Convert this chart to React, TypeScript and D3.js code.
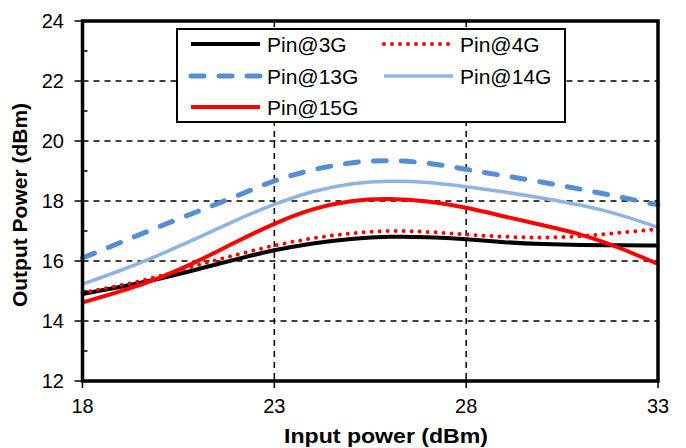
import React, { useRef, useEffect } from "react";
import * as d3 from "d3";

const inputPower = [18, 19, 20, 21, 22, 23, 24, 25, 26, 27, 28, 29, 30, 31, 32, 33];
const pin3G = [14.9, 15.14, 15.4, 15.72, 16.06, 16.37, 16.6, 16.75, 16.82, 16.8, 16.73, 16.62, 16.56, 16.53, 16.52, 16.52];
const pin4G = [14.94, 15.18, 15.48, 15.87, 16.2, 16.53, 16.77, 16.93, 17.02, 16.98, 16.88, 16.8, 16.77, 16.82, 16.94, 17.06];
const pin13G = [16.1, 16.62, 17.15, 17.65, 18.15, 18.7, 19.05, 19.3, 19.37, 19.28, 19.05, 18.84, 18.63, 18.39, 18.14, 17.87];
const pin14G = [15.23, 15.68, 16.2, 16.76, 17.37, 17.9, 18.34, 18.6, 18.68, 18.63, 18.48, 18.3, 18.1, 17.87, 17.56, 17.12];
const pin15G = [14.62, 14.98, 15.42, 15.98, 16.64, 17.26, 17.76, 18.03, 18.09, 18.0, 17.79, 17.48, 17.19, 16.9, 16.45, 15.9];

const xTicks = [18, 23, 28, 33];
const yTicks = [12, 14, 16, 18, 20, 22, 24];
const yMinorTicks = [13, 15, 17, 19, 21, 23];

const seriesNames = ["Pin@3G", "Pin@4G", "Pin@13G", "Pin@14G", "Pin@15G"];
const seriesValues = [pin3G, pin4G, pin13G, pin14G, pin15G];

const FONT = "'Liberation Sans', Arial, sans-serif";

// line styles per series
const styles = [
  { color: "#000000", width: 4, dash: null, cap: "butt" },
  { color: "#ff0000", width: 4, dash: "0 8", cap: "round" },
  { color: "#558ed5", width: 5, dash: "13 15", cap: "round" },
  { color: "#8eb4e3", width: 3.5, dash: null, cap: "butt" },
  { color: "#ff0000", width: 4, dash: null, cap: "butt" },
];

const App = () => {
  const plot = useRef(null);

  const width = 686;
  const height = 448;
  const left = 82.5, right = 658, top = 21, bottom = 381;

  useEffect(() => {
    const svg = d3.select(plot.current);
    svg.selectAll("*").remove();

    const x = d3.scaleLinear().domain([18, 33]).range([left, right]);
    const y = d3.scaleLinear().domain([12, 24]).range([bottom, top]);

    svg.append("rect")
      .attr("width", width).attr("height", height).attr("fill", "white");

    // grid
    const grid = svg.append("g")
      .attr("stroke", "black")
      .attr("stroke-width", 1.5)
      .attr("stroke-dasharray", "6 5");
    grid.selectAll(".hg")
      .data(yTicks.slice(1, -1))
      .join("line")
      .attr("x1", left).attr("x2", right)
      .attr("y1", d => y(d)).attr("y2", d => y(d));
    grid.selectAll(".vg")
      .data(xTicks.slice(1, -1))
      .join("line")
      .attr("x1", d => x(d)).attr("x2", d => x(d))
      .attr("y1", top).attr("y2", bottom);

    // series lines (smoothed)
    const line = d3.line()
      .x((d, i) => x(inputPower[i]))
      .y(d => y(d))
      .curve(d3.curveBasis);

    svg.append("g")
      .selectAll("path")
      .data(seriesValues)
      .join("path")
      .attr("d", d => line(d))
      .attr("fill", "none")
      .attr("stroke", (d, i) => styles[i].color)
      .attr("stroke-width", (d, i) => styles[i].width)
      .attr("stroke-linecap", (d, i) => styles[i].cap)
      .attr("stroke-dasharray", (d, i) => styles[i].dash);

    // plot frame
    svg.append("rect")
      .attr("x", left).attr("y", top)
      .attr("width", right - left).attr("height", bottom - top)
      .attr("fill", "none")
      .attr("stroke", "black")
      .attr("stroke-width", 3.5);

    // ticks
    const ticks = svg.append("g").attr("stroke", "black").attr("stroke-width", 1.5);
    ticks.selectAll(".yt")
      .data(yTicks)
      .join("line")
      .attr("x1", left - 8).attr("x2", left)
      .attr("y1", d => y(d)).attr("y2", d => y(d));
    ticks.selectAll(".ym")
      .data(yMinorTicks)
      .join("line")
      .attr("x1", left - 1).attr("x2", left + 5)
      .attr("y1", d => y(d)).attr("y2", d => y(d));
    ticks.selectAll(".xt")
      .data(xTicks)
      .join("line")
      .attr("x1", d => x(d)).attr("x2", d => x(d))
      .attr("y1", bottom - 2).attr("y2", bottom + 7);

    // tick labels
    svg.append("g")
      .selectAll("text")
      .data(yTicks)
      .join("text")
      .attr("x", 64)
      .attr("y", d => y(d))
      .attr("dy", "0.36em")
      .attr("text-anchor", "end")
      .attr("font-family", FONT)
      .attr("font-size", 20)
      .text(d => d);

    svg.append("g")
      .selectAll("text")
      .data(xTicks)
      .join("text")
      .attr("x", d => x(d))
      .attr("y", 413)
      .attr("text-anchor", "middle")
      .attr("font-family", FONT)
      .attr("font-size", 20)
      .text(d => d);

    // axis titles
    svg.append("text")
      .attr("transform", "translate(386, 443) scale(1.1, 1)")
      .attr("text-anchor", "middle")
      .attr("font-family", FONT)
      .attr("font-weight", "bold")
      .attr("font-size", 21)
      .text("Input power (dBm)");

    svg.append("text")
      .attr("transform", "translate(27, 205) rotate(-90)")
      .attr("text-anchor", "middle")
      .attr("font-family", FONT)
      .attr("font-weight", "bold")
      .attr("font-size", 21)
      .text("Output Power (dBm)");

    // legend
    const legend = svg.append("g");
    legend.append("rect")
      .attr("x", 177).attr("y", 29)
      .attr("width", 388).attr("height", 93)
      .attr("fill", "white")
      .attr("stroke", "black")
      .attr("stroke-width", 2);

    const colX = [191, 384];
    const rowY = [44, 76, 107];
    const items = legend.selectAll(".item")
      .data(seriesNames)
      .join("g")
      .attr("transform", (d, i) => `translate(${colX[i % 2]}, ${rowY[Math.floor(i / 2)]})`);
    items.append("line")
      .attr("x1", 0).attr("x2", 69)
      .attr("y1", 0).attr("y2", 0)
      .attr("stroke", (d, i) => styles[i].color)
      .attr("stroke-width", (d, i) => styles[i].width)
      .attr("stroke-linecap", (d, i) => styles[i].cap)
      .attr("stroke-dasharray", (d, i) => styles[i].dash);
    items.append("text")
      .attr("x", 76).attr("y", 7.5)
      .attr("font-family", FONT)
      .attr("font-size", 21)
      .text(d => d);
  });

  return (
    <svg ref={plot} width={width} height={height} style={{ position: "absolute", left: 0, top: 0 }} />
  );
};

export default App;
